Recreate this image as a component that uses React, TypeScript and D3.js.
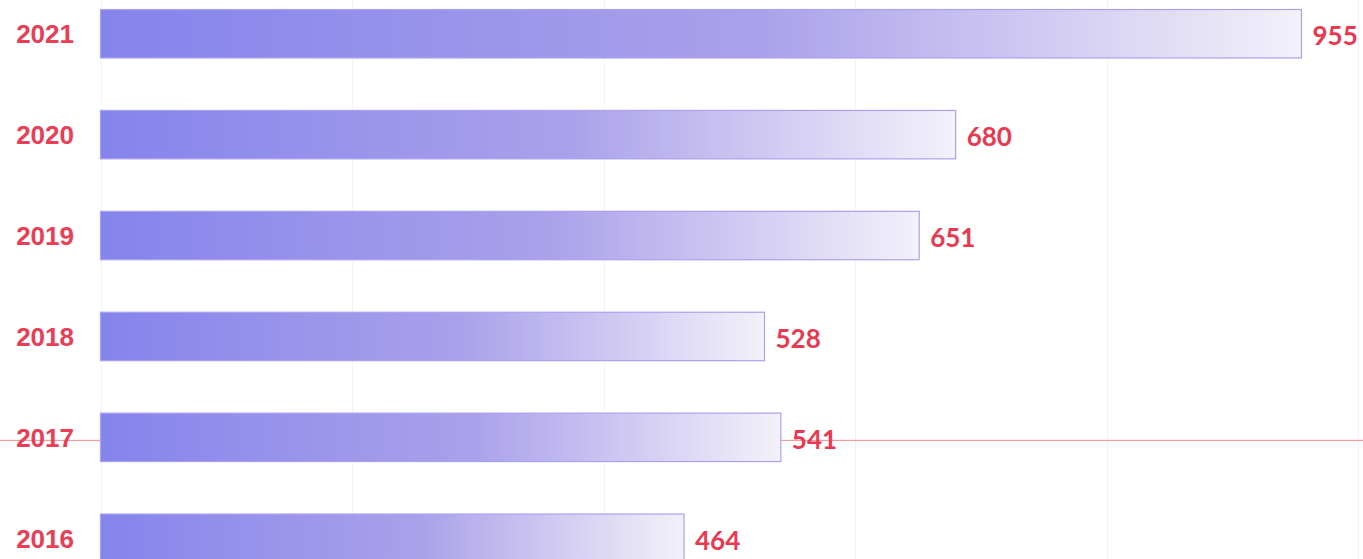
import React, { useRef, useEffect } from 'react';
import * as d3 from 'd3';

// bar chart data, top to bottom
const years = ['2021', '2020', '2019', '2018', '2017', '2016'];
const counts = [955, 680, 651, 528, 541, 464];
const gridTicks = [0, 200, 400, 600, 800, 1000];
const markedYear = '2017';

const W = 1363;
const H = 559;

export default function App() {
  const svgRef = useRef<SVGSVGElement>(null);

  useEffect(() => {
    const svg = d3.select(svgRef.current);
    svg.selectAll('*').remove();

    const data = years.map((y, i) => ({ year: y, value: counts[i] }));

    const x = d3.scaleLinear().domain([0, 955]).range([100.5, 1301.5]);
    const y = d3.scaleBand<string>()
      .domain(years)
      .range([-16.7, 588.7])
      .paddingInner(0.52)
      .paddingOuter(0.26);

    // gradient for each bar (object bounding box so it fades at the bar end)
    const defs = svg.append('defs');
    const grad = defs.append('linearGradient')
      .attr('id', 'barGrad')
      .attr('x1', '0').attr('x2', '1').attr('y1', '0').attr('y2', '0');
    grad.append('stop').attr('offset', '0').attr('stop-color', '#8584ec');
    grad.append('stop').attr('offset', '0.55').attr('stop-color', '#aba1ea');
    grad.append('stop').attr('offset', '1').attr('stop-color', '#f3f1fa');

    // faint vertical grid
    svg.append('g')
      .selectAll('line')
      .data(gridTicks)
      .enter().append('line')
      .attr('x1', d => Math.round(x(d)) + 0.5)
      .attr('x2', d => Math.round(x(d)) + 0.5)
      .attr('y1', 0)
      .attr('y2', H)
      .attr('stroke', '#f3f3f3')
      .attr('stroke-width', 1);

    // red marker line through 2017
    const my = (y(markedYear) ?? 0) + y.bandwidth() / 2 + 3;
    svg.append('line')
      .attr('x1', 0).attr('x2', W)
      .attr('y1', my).attr('y2', my)
      .attr('stroke', '#f28a92')
      .attr('stroke-width', 1);

    // bars
    svg.append('g')
      .selectAll('rect')
      .data(data)
      .enter().append('rect')
      .attr('x', x(0))
      .attr('y', d => y(d.year) ?? 0)
      .attr('width', d => x(d.value) - x(0))
      .attr('height', y.bandwidth())
      .attr('fill', 'url(#barGrad)')
      .attr('stroke', '#a9a1f2')
      .attr('stroke-width', 1.2);

    // year labels
    svg.append('g')
      .selectAll('text')
      .data(data)
      .enter().append('text')
      .attr('x', 74)
      .attr('y', d => (y(d.year) ?? 0) + y.bandwidth() / 2)
      .attr('dy', '0.36em')
      .attr('text-anchor', 'end')
      .attr('font-family', 'Liberation Sans, Arial, sans-serif')
      .attr('font-weight', 'bold')
      .attr('font-size', 26)
      .attr('fill', '#ea3d56')
      .text(d => d.year);

    // value labels
    svg.append('g')
      .selectAll('text')
      .data(data)
      .enter().append('text')
      .attr('x', d => x(d.value) + 11)
      .attr('y', d => (y(d.year) ?? 0) + y.bandwidth() / 2 + 2)
      .attr('dy', '0.36em')
      .attr('font-family', 'Lato, Open Sans, sans-serif')
      .attr('font-weight', 'bold')
      .attr('font-size', 26)
      .attr('fill', '#ea3850')
      .text(d => d.value);
  }, []);

  return (
    <div style={{ position: 'fixed', left: 0, top: 0, background: '#fff' }}>
      <svg ref={svgRef} width={W} height={H} style={{ display: 'block' }}></svg>
    </div>
  );
}
